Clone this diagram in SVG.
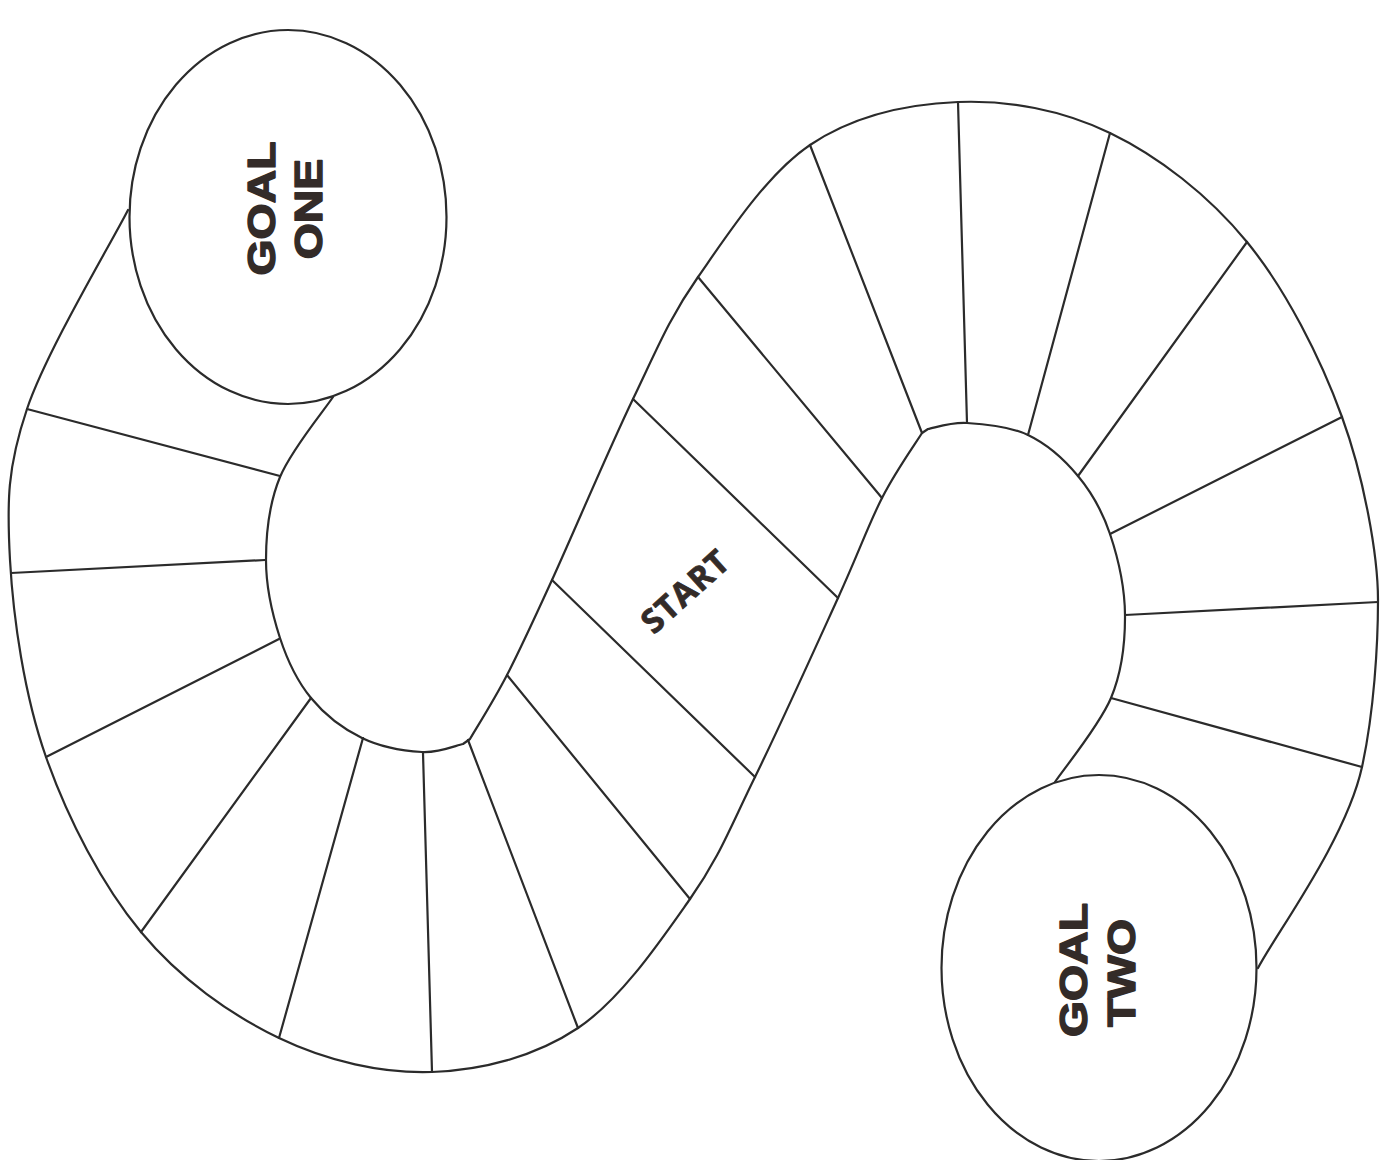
<svg xmlns="http://www.w3.org/2000/svg" width="1389" height="1160" viewBox="0 0 1389 1160">
<style>
.edge{fill:none;stroke:#2b2b2b;stroke-width:2.2;stroke-linejoin:round;stroke-linecap:round}
.goal{fill:#ffffff;stroke:#2b2b2b;stroke-width:2.2}
.gt{font-family:"Liberation Sans",Arial,sans-serif;font-weight:bold;font-size:38px;fill:#332b28;stroke:#332b28;stroke-width:1.4;stroke-linejoin:round;text-anchor:middle}
.st{font-family:"Open Sans","Liberation Sans",sans-serif;font-weight:bold;font-size:33px;fill:#332b28;stroke:#332b28;stroke-width:0.8;stroke-linejoin:round;text-anchor:middle;letter-spacing:1px}
</style>
<rect width="1389" height="1160" fill="#ffffff"/>
<g id="track">
<path class="edge" d="M128,210 C111.2,243.2 46.7,350.7 27,409 C7.3,467.3 6.8,502 10,560 C13.2,618 24.2,695 46,757 C67.8,819 102.2,885.2 141,932 C179.8,978.8 230.5,1014.7 279,1038 C327.5,1061.3 382.2,1073.7 432,1072 C481.8,1070.3 535,1056.8 578,1028 C621,999.2 660.5,940.8 690,899 C719.5,857.2 730.3,827.2 755,777 C779.7,726.8 816.8,644.5 838,598 C859.2,551.5 868,525.5 882,498 C896,470.5 915.3,443.8 922,433 L928,429 C934.5,428 950.3,422 967,423 C983.7,424 1009.5,426.2 1028,435 C1046.5,443.8 1064.3,459.5 1078,476 C1091.7,492.5 1102.2,510.8 1110,534 C1117.8,557.2 1124.8,587.7 1125,615 C1125.2,642.3 1122.7,670.2 1111,698 C1099.3,725.8 1064.3,768 1055,782"/>
<path class="edge" d="M333,397 C324.2,410.3 291.2,449.8 280,477 C268.8,504.2 266,533.2 266,560 C266,586.8 272.5,615 280,638 C287.5,661 297.3,681.3 311,698 C324.7,714.7 343.5,729 362,738 C380.5,747 405.2,751 422,752 C438.8,753 456.2,745.3 463,744 L470,739 C476.2,728.3 493.3,701.5 507,675 C520.7,648.5 531,626 552,580 C573,534 608.7,449.5 633,399 C657.3,348.5 668.5,319.3 698,277 C727.5,234.7 766.7,174.2 810,145 C853.3,115.8 908,104 958,102 C1008,100 1061.8,109.7 1110,133 C1158.2,156.3 1208.3,194.7 1247,242 C1285.7,289.3 1320.2,357.3 1342,417 C1363.8,476.7 1378,555 1378,600 C1378,645 1374,712 1362,767 C1346,840 1275.3,934.5 1258,968"/>
</g>
<g id="dividers" class="edge">
<line x1="27" y1="409" x2="280" y2="476"/>
<line x1="11" y1="573" x2="265" y2="560"/>
<line x1="46" y1="757" x2="279" y2="639"/>
<line x1="141" y1="932" x2="311" y2="698"/>
<line x1="279" y1="1038" x2="363" y2="738"/>
<line x1="432" y1="1072" x2="423" y2="753"/>
<line x1="578" y1="1028" x2="468" y2="740"/>
<line x1="690" y1="899" x2="507" y2="675"/>
<line x1="755" y1="777" x2="552" y2="580"/>
<line x1="838" y1="598" x2="633" y2="399"/>
<line x1="698" y1="277" x2="882" y2="498"/>
<line x1="810" y1="145" x2="922" y2="433"/>
<line x1="958" y1="102" x2="967" y2="423"/>
<line x1="1110" y1="133" x2="1028" y2="435"/>
<line x1="1247" y1="242" x2="1078" y2="476"/>
<line x1="1342" y1="417" x2="1110" y2="534"/>
<line x1="1378" y1="602" x2="1125" y2="615"/>
<line x1="1362" y1="767" x2="1111" y2="698"/>
</g>
<g id="goal-one">
<ellipse class="goal" cx="288" cy="217" rx="158.5" ry="187"/>
<text class="gt" transform="translate(275,208.5) rotate(-90) scale(1.22,1)">GOAL</text>
<text class="gt" transform="translate(322,209) rotate(-90) scale(1.22,1)">ONE</text>
</g>
<g id="goal-two">
<ellipse class="goal" cx="1099" cy="968" rx="157.5" ry="193"/>
<text class="gt" transform="translate(1087,970) rotate(-90) scale(1.22,1)">GOAL</text>
<text class="gt" transform="translate(1135,973) rotate(-90) scale(1.22,1)">TWO</text>
</g>
<g id="start">
<text class="st" transform="translate(685,591) rotate(-42)" y="12">START</text>
</g>
</svg>
